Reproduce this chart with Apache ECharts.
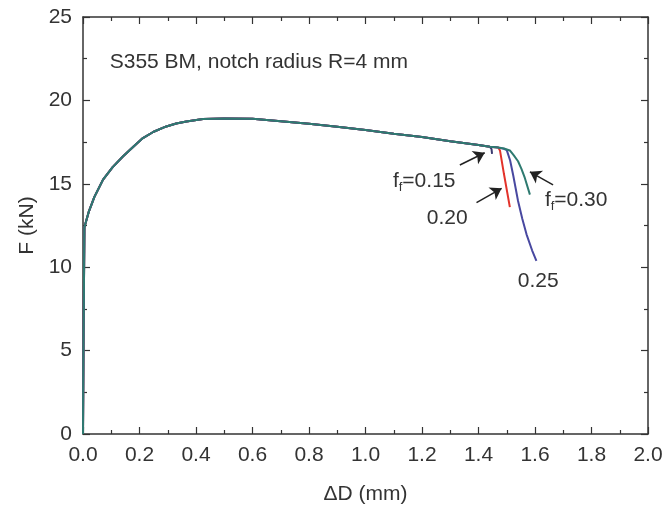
<!DOCTYPE html>
<html>
<head>
<meta charset="utf-8">
<script src="https://cdn.jsdelivr.net/npm/echarts@6/dist/echarts.min.js"></script>
<style>html,body{margin:0;padding:0;background:#fff;}#c{width:668px;height:513px;}</style>
</head>
<body>
<div id="c"></div>
<script>
// Shared part of the force-displacement curve
const baseX = [0, 0.002, 0.005, 0.02, 0.04, 0.071, 0.105, 0.142, 0.18, 0.212, 0.25, 0.295, 0.33, 0.366, 0.425, 0.5, 0.6, 0.7, 0.8, 0.9, 1.0, 1.1, 1.2, 1.3, 1.4, 1.44];
const baseF = [0, 6, 12.4, 13.3, 14.2, 15.25, 16.0, 16.65, 17.25, 17.74, 18.12, 18.44, 18.62, 18.74, 18.88, 18.92, 18.9, 18.75, 18.6, 18.42, 18.22, 18.0, 17.8, 17.55, 17.32, 17.22];
// Failure tails for each f_f
const tail015X = [1.446, 1.448];
const tail015F = [17.1, 16.8];
const tail020X = [1.47, 1.476, 1.49, 1.511];
const tail020F = [17.17, 17.0, 15.6, 13.6];
const tail025X = [1.47, 1.49, 1.5, 1.512, 1.523, 1.54, 1.555, 1.57, 1.59, 1.605];
const tail025F = [17.17, 17.1, 17.02, 16.4, 15.5, 13.97, 12.9, 11.97, 11.0, 10.38];
const tail030X = [1.47, 1.49, 1.511, 1.525, 1.54, 1.552, 1.564, 1.582];
const tail030F = [17.17, 17.12, 17.0, 16.7, 16.35, 15.9, 15.35, 14.35];

const xTicks = { min: 0, max: 2, interval: 0.2 };
const yTicks = { min: 0, max: 25, interval: 5 };

function build(tx, tf) {
  const d = baseX.map((x, i) => [x, baseF[i]]);
  tx.forEach((x, i) => d.push([x, tf[i]]));
  return d;
}

const chart = echarts.init(document.getElementById('c'), null, { renderer: 'canvas' });
const FONT = '"Liberation Sans", Arial, sans-serif';
const axisCol = '#333';
const labCol = '#333';

function xAx(pos, show) {
  return {
    type: 'value', position: pos, min: xTicks.min, max: xTicks.max, interval: xTicks.interval,
    axisLine: { show: true, onZero: false, lineStyle: { color: axisCol, width: 1.5 } },
    axisTick: { show: true, inside: true, length: 7, lineStyle: { color: axisCol, width: 1.2 } },
    minorTick: { show: true, splitNumber: 2, length: 4, lineStyle: { color: axisCol, width: 1.2 } },
    splitLine: { show: false },
    axisLabel: { show: show, margin: 11, color: labCol, fontSize: 21, fontFamily: FONT, formatter: v => v.toFixed(1) },
    name: show ? 'ΔD (mm)' : '', nameLocation: 'middle', nameGap: 50,
    nameTextStyle: { color: labCol, fontSize: 21, fontFamily: FONT }
  };
}
function yAx(pos, show) {
  return {
    type: 'value', position: pos, min: yTicks.min, max: yTicks.max, interval: yTicks.interval,
    axisLine: { show: true, onZero: false, lineStyle: { color: axisCol, width: 1.5 } },
    axisTick: { show: true, inside: true, length: 7, lineStyle: { color: axisCol, width: 1.2 } },
    minorTick: { show: true, splitNumber: 2, length: 4, lineStyle: { color: axisCol, width: 1.2 } },
    splitLine: { show: false },
    axisLabel: { show: show, margin: 11, color: labCol, fontSize: 21, fontFamily: FONT },
    name: show ? 'F (kN)' : '', nameLocation: 'middle', nameGap: 44, nameRotate: 90,
    nameTextStyle: { color: labCol, fontSize: 21, fontFamily: FONT }
  };
}

const rich = {
  t: { fontSize: 21, fontFamily: FONT, color: '#333', lineHeight: 26 },
  s: { fontSize: 13, fontFamily: FONT, color: '#333', verticalAlign: 'bottom', lineHeight: 26 }
};
function note(x, y, formatter) {
  return { coord: [x, y], symbol: 'circle', symbolSize: 0,
    label: { show: true, position: 'right', distance: 0, formatter: formatter, rich: rich, color: '#333', fontSize: 21, fontFamily: FONT } };
}
function arrow(x1, y1, x2, y2) {
  return [{ coord: [x1, y1], symbol: 'none' }, { coord: [x2, y2], symbol: 'arrow', symbolSize: 11 }];
}

chart.setOption({
  animation: false,
  backgroundColor: '#fff',
  grid: { left: 83, right: 20, top: 17, bottom: 79, containLabel: false },
  xAxis: [xAx('bottom', true), xAx('top', false)],
  yAxis: [yAx('left', true), yAx('right', false)],
  series: [
    { name: '0.15', type: 'line', data: build(tail015X, tail015F), showSymbol: false, symbol: 'none',
      lineStyle: { color: '#3b3b70', width: 2 },
      markPoint: { silent: true, data: [
        note(0.0945, 22.31, '{t|S355 BM, notch radius R=4 mm}'),
        note(1.097, 15.17, '{t|f}{s|f}{t|=0.15}'),
        note(1.217, 12.92, '{t|0.20}'),
        note(1.635, 14.03, '{t|f}{s|f}{t|=0.30}'),
        note(1.539, 9.18, '{t|0.25}')
      ] },
      markLine: { silent: true, symbol: ['none', 'arrow'], symbolSize: 11,
        lineStyle: { color: '#222', width: 1.5, type: 'solid' }, itemStyle: { color: '#222' }, label: { show: false },
        data: [
          arrow(1.334, 16.13, 1.422, 16.86),
          arrow(1.393, 13.87, 1.482, 14.73),
          arrow(1.664, 14.93, 1.582, 15.72)
        ] } },
    { name: '0.20', type: 'line', data: build(tail020X, tail020F), showSymbol: false, symbol: 'none',
      lineStyle: { color: '#e3332b', width: 2 } },
    { name: '0.25', type: 'line', data: build(tail025X, tail025F), showSymbol: false, symbol: 'none',
      lineStyle: { color: '#4848a0', width: 2 } },
    { name: '0.30', type: 'line', data: build(tail030X, tail030F), showSymbol: false, symbol: 'none',
      lineStyle: { color: '#2e7a70', width: 2 } }
  ]
});
</script>
</body>
</html>
